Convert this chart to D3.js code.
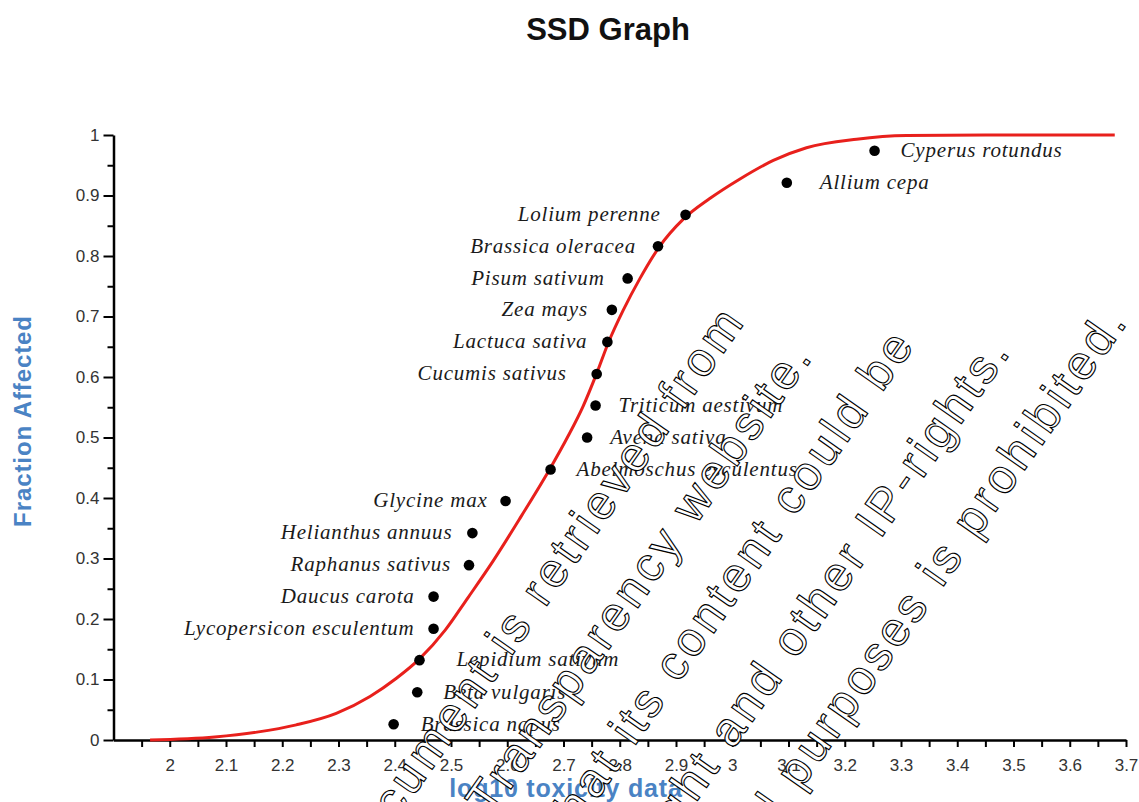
<!DOCTYPE html>
<html>
<head>
<meta charset="utf-8">
<script src="https://cdn.jsdelivr.net/npm/d3@7"></script>
<style>
  html, body { margin: 0; padding: 0; background: #fff; }
  svg { display: block; }
</style>
</head>
<body>
<svg id="chart" width="1139" height="802"></svg>
<script>
// species sensitivity points
const species = [
  "Brassica napus", "Beta vulgaris", "Lepidium sativum", "Lycopersicon esculentum",
  "Daucus carota", "Raphanus sativus", "Helianthus annuus", "Glycine max",
  "Abelmoschus esculentus", "Avena sativa", "Triticum aestivum", "Cucumis sativus",
  "Lactuca sativa", "Zea mays", "Pisum sativum", "Brassica oleracea",
  "Lolium perenne", "Allium cepa", "Cyperus rotundus"
];
const toxicity = [
  2.398, 2.440, 2.444, 2.469, 2.469, 2.532, 2.538, 2.597, 2.677, 2.742,
  2.757, 2.759, 2.778, 2.786, 2.814, 2.868, 2.917, 3.097, 3.253
];
const fraction = [
  0.026, 0.079, 0.132, 0.184, 0.237, 0.289, 0.342, 0.395, 0.447, 0.500,
  0.553, 0.605, 0.658, 0.711, 0.763, 0.816, 0.868, 0.921, 0.974
];

// fitted SSD curve
const curveX = [
  1.965, 2.08, 2.155, 2.225, 2.296, 2.356, 2.403, 2.444, 2.49, 2.53,
  2.575, 2.625, 2.677, 2.708, 2.735, 2.759, 2.779, 2.806, 2.836, 2.871,
  2.913, 2.96, 3.013, 3.073, 3.132, 3.221, 3.31, 3.45, 3.68
];
const curveY = [
  0, 0.005, 0.013, 0.025, 0.044, 0.072, 0.102, 0.134, 0.182, 0.235,
  0.296, 0.37, 0.45, 0.502, 0.552, 0.606, 0.655, 0.71, 0.763, 0.816,
  0.861, 0.895, 0.927, 0.958, 0.979, 0.993, 0.999, 1, 1
];

// axis ticks
const xTicks = [2, 2.1, 2.2, 2.3, 2.4, 2.5, 2.6, 2.7, 2.8, 2.9, 3, 3.1, 3.2, 3.3, 3.4, 3.5, 3.6, 3.7];
const xTickLabels = ["2", "2.1", "2.2", "2.3", "2.4", "2.5", "2.6", "2.7", "2.8", "2.9", "3", "3.1", "3.2", "3.3", "3.4", "3.5", "3.6", "3.7"];
const yTicks = [0, 0.1, 0.2, 0.3, 0.4, 0.5, 0.6, 0.7, 0.8, 0.9, 1];
const yTickLabels = ["0", "0.1", "0.2", "0.3", "0.4", "0.5", "0.6", "0.7", "0.8", "0.9", "1"];

const watermarkLines = [
  "This document is retrieved from",
  "the Transparency website.",
  "Please note that its content could be",
  "subject to copyright and other IP-rights.",
  "Any use for commercial purposes is prohibited."
];

// ---- layout ----
// label offset from the dot (negative = label on the left)
const labelDx = [27, 26, 37, -19, -19, -18, -20, -18, 26, 23, 23, -30, -20, -24, -23, -22, -25, 33, 26];
// end point of each watermark line
const watermarkEnds = [[747, 320], [815, 355], [917, 343], [1013, 350], [1130, 320]];

const svg = d3.select("#chart");
const blue = "#4a83c4";
const sans = "'Liberation Sans', Arial, sans-serif";

const x = d3.scaleLinear().domain([1.9, 3.7]).range([113.5, 1126]);
const y = d3.scaleLinear().domain([0, 1]).range([740, 135]);

// title
svg.append("text")
  .attr("x", 608).attr("y", 40)
  .attr("text-anchor", "middle")
  .style("font-family", sans)
  .style("font-weight", "bold")
  .style("font-size", "31px")
  .style("fill", "#111")
  .text("SSD Graph");

// minor ticks halfway between the labelled ones
const xMinor = [1.95].concat(xTicks.slice(0, -1).map((t, i) => (t + xTicks[i + 1]) / 2));
const yMinor = yTicks.slice(0, -1).map((t, i) => (t + yTicks[i + 1]) / 2);

const axisFont = (g) => g.selectAll("text")
  .style("font-family", sans)
  .style("font-size", "17px")
  .style("fill", "#333");

// x axis
const xAxisG = svg.append("g").attr("transform", `translate(0,${y(0)})`);
xAxisG.call(d3.axisBottom(x).tickValues(xMinor).tickSize(7).tickSizeOuter(0).tickFormat(""));
xAxisG.append("g").call(
  d3.axisBottom(x).tickValues(xTicks).tickSize(7).tickSizeOuter(0).tickPadding(12)
    .tickFormat((d, i) => xTickLabels[i])
).call(g => g.select(".domain").remove()).call(axisFont);
xAxisG.select(".domain").attr("stroke", "#000").attr("stroke-width", 2.5);
xAxisG.selectAll(".tick line").attr("stroke", "#000").attr("stroke-width", 2);

// y axis
const yAxisG = svg.append("g").attr("transform", `translate(${x(1.9)},0)`);
yAxisG.call(d3.axisLeft(y).tickValues(yMinor).tickSize(6).tickSizeOuter(0).tickFormat(""));
yAxisG.append("g").call(
  d3.axisLeft(y).tickValues(yTicks).tickSize(10).tickSizeOuter(0).tickPadding(4)
    .tickFormat((d, i) => yTickLabels[i])
).call(g => g.select(".domain").remove()).call(axisFont);
yAxisG.select(".domain").attr("stroke", "#000").attr("stroke-width", 2.5);
yAxisG.selectAll(".tick line").attr("stroke", "#000").attr("stroke-width", 2);

// axis titles
svg.append("text")
  .attr("transform", "translate(31,421) rotate(-90)")
  .attr("text-anchor", "middle")
  .style("font-family", sans)
  .style("font-weight", "bold")
  .style("font-size", "24px")
  .style("letter-spacing", "0.9px")
  .style("fill", blue)
  .text("Fraction Affected");

svg.append("text")
  .attr("x", 566).attr("y", 797)
  .attr("text-anchor", "middle")
  .style("font-family", sans)
  .style("font-weight", "bold")
  .style("font-size", "25px")
  .style("letter-spacing", "0.8px")
  .style("fill", blue)
  .text("log10 toxicity data");

// fitted curve
const curvePts = curveX.map((v, i) => [v, curveY[i]]);
svg.append("path")
  .datum(curvePts)
  .attr("fill", "none")
  .attr("stroke", "#e8201c")
  .attr("stroke-width", 3)
  .attr("d", d3.line().x(d => x(d[0])).y(d => y(d[1])).curve(d3.curveMonotoneX));

// points
const pts = species.map((s, i) => ({ name: s, tox: toxicity[i], frac: fraction[i], dx: labelDx[i] }));
svg.append("g").selectAll("circle")
  .data(pts).join("circle")
  .attr("cx", d => x(d.tox))
  .attr("cy", d => y(d.frac))
  .attr("r", 5.3)
  .attr("fill", "#000");

svg.append("g").selectAll("text")
  .data(pts).join("text")
  .attr("x", d => x(d.tox) + d.dx)
  .attr("y", d => y(d.frac))
  .attr("dy", "0.3em")
  .attr("text-anchor", d => d.dx < 0 ? "end" : "start")
  .style("font-family", "'Liberation Serif', 'Times New Roman', serif")
  .style("font-style", "italic")
  .style("font-size", "21px")
  .style("letter-spacing", "0.8px")
  .style("fill", "#1a1a1a")
  .text(d => d.name);

// watermark, outlined text on top
svg.append("g").selectAll("text")
  .data(watermarkLines).join("text")
  .attr("transform", (d, i) => `translate(${watermarkEnds[i][0]},${watermarkEnds[i][1]}) rotate(-55)`)
  .attr("text-anchor", "end")
  .style("font-family", sans)
  .style("font-size", "48px")
  .style("letter-spacing", "4px")
  .style("fill", "#fff")
  .style("stroke", "#000")
  .style("stroke-width", 1.1)
  .text(d => d);
</script>
</body>
</html>
